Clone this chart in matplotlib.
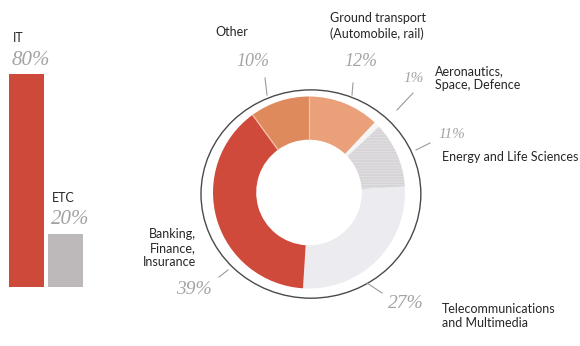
import matplotlib
matplotlib.use("Agg")
import matplotlib.pyplot as plt
import numpy as np
from matplotlib.patches import Ellipse
from matplotlib.lines import Line2D

# --- data -------------------------------------------------------------
bar_categories = ["IT", "ETC"]
bar_values = [80, 20]

sectors = ["Ground transport\n(Automobile, rail)",
           "Aeronautics,\nSpace, Defence",
           "Energy and Life Sciences",
           "Telecommunications\nand Multimedia",
           "Banking,\nFinance,\nInsurance",
           "Other"]
sector_values = [12, 1, 11, 27, 39, 10]

# --- style ------------------------------------------------------------
W, H = 580, 346
LABEL_FONT = "Lato"
PCT_FONT = "Liberation Serif"
PCT_COLOR = "#a3a3a3"
TEXT_COLOR = "#262626"
bar_colors = ["#cd4a3b", "#bdb9ba"]
sector_colors = ["#eaa079", "#f6f5f6", "#d7d4d7", "#ebebf0", "#cf4a3b", "#de8a5d"]
plt.rcParams["hatch.linewidth"] = 0.6

fig = plt.figure(figsize=(W / 100, H / 100), dpi=100)
fig.patch.set_facecolor("white")


def fx(x):
    return x / W


def fy(y):
    return 1 - y / H


# --- left bar chart ---------------------------------------------------
axb = fig.add_axes([0, fy(287), 100 / W, 266 / H])
xpos = np.arange(len(bar_categories))
bars = axb.bar(xpos, bar_values, width=0.9, color=bar_colors, linewidth=0)
axb.set_xlim(-0.68, 1.885)
axb.set_ylim(0, 100)
axb.axis("off")
for rect, cat, val in zip(bars, bar_categories, bar_values):
    x0 = rect.get_x()
    top = rect.get_height()
    axb.annotate(cat, (x0, top), xytext=(3, 26), textcoords="offset points",
                 ha="left", va="center", fontsize=9, family=LABEL_FONT,
                 color=TEXT_COLOR)
    axb.annotate(f"{val}%", (x0, top), xytext=(2, 10), textcoords="offset points",
                 ha="left", va="center", fontsize=15, family=PCT_FONT,
                 style="italic", color=PCT_COLOR)

# --- donut ------------------------------------------------------------
cx, cy, box = 309, 192.5, 240
axp = fig.add_axes([fx(cx - box / 2), fy(cy + box / 2), box / W, box / H])
axp.set_xlim(-1.25, 1.25)
axp.set_ylim(-1.25, 1.25)
axp.set_aspect("equal")
axp.axis("off")
inner_r = 0.55
wedges, _ = axp.pie(sector_values, colors=sector_colors, startangle=90,
                    counterclock=False, radius=1.0,
                    wedgeprops=dict(width=1 - inner_r, linewidth=0, edgecolor="none"))
# faint horizontal texture on the energy sector
wedges[2].set_hatch("------")
wedges[2].set_edgecolor("#e3e1e3")
wedges[2].set_linewidth(0)

# light radial separators between the warm sectors
bounds = 90 - 360 * np.cumsum(sector_values) / np.sum(sector_values)
for ang in (bounds[4], bounds[5]):
    a = np.deg2rad(ang)
    axp.plot([inner_r * np.cos(a), np.cos(a)], [inner_r * np.sin(a), np.sin(a)],
             color="#f3c6a8", linewidth=0.9, solid_capstyle="butt")

ring = Ellipse((0.02, -0.016), 2.29, 2.17, fill=False, edgecolor="#4a4a4a",
               linewidth=1.0, clip_on=False)
axp.add_patch(ring)

# --- sector labels, percentages and leader lines (pixel layout) -------
layout = [
    # label xy, ha, pct xy, pct size, leader (x0, y0, x1, y1)
    ((330, 26), "left", (361, 62), 13, (353, 83, 352, 95)),
    ((435, 78), "left", (414, 79), 11, (413, 93, 397, 110)),
    ((442, 157), "left", (452, 134), 11, (430, 143, 416, 150)),
    ((442, 316), "left", (406, 303), 14, (367, 283, 382, 293)),
    ((196, 248), "right", (194, 290), 14, (228, 270, 219, 277)),
    ((232, 32), "center", (253, 62), 13, (265, 78, 267, 95)),
]
for name, val, (lxy, ha, pxy, psize, ld) in zip(sectors, sector_values, layout):
    fig.text(fx(lxy[0]), fy(lxy[1]), name, ha=ha, va="center",
             fontsize=9, family=LABEL_FONT, color=TEXT_COLOR,
             linespacing=1.25, multialignment=ha)
    fig.text(fx(pxy[0]), fy(pxy[1]), f"{val}%", ha="center", va="center",
             fontsize=psize, family=PCT_FONT, style="italic", color=PCT_COLOR)
    fig.add_artist(Line2D([fx(ld[0]), fx(ld[2])], [fy(ld[1]), fy(ld[3])],
                          color="#9a9a9a", linewidth=0.8))

fig.savefig("out.png", dpi=100, facecolor="white")
